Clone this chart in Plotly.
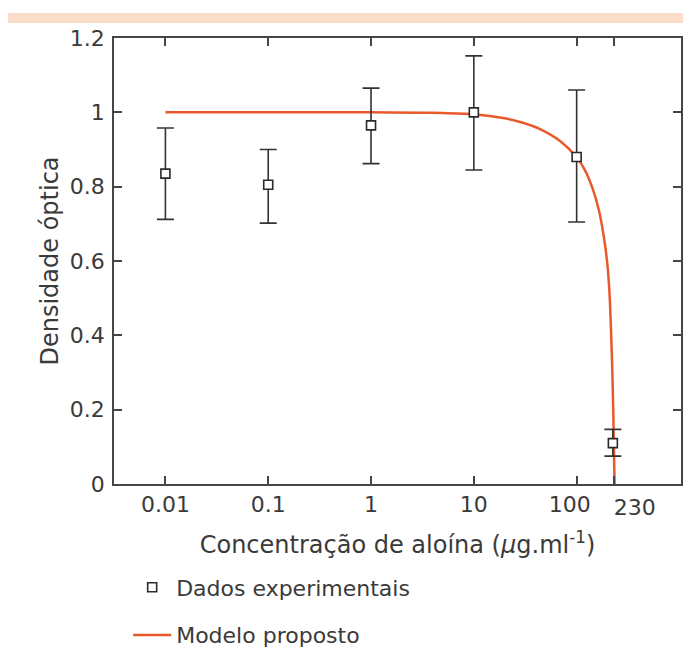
import plotly.graph_objects as go

conc = [0.01, 0.1, 1, 10, 100, 225]
density = [0.835, 0.805, 0.965, 1.0, 0.88, 0.11]
upper = [0.958, 0.900, 1.065, 1.152, 1.060, 0.147]
lower = [0.712, 0.702, 0.862, 0.845, 0.705, 0.075]

# Model curve points
model_x = [0.01, 0.1, 1, 3, 5, 10, 20, 30, 44, 69, 100, 120, 145, 165,
           185, 200, 210, 218, 222, 226, 229, 232, 234]
model_y = [1.0, 1.0, 1.0, 0.999, 0.998, 0.995, 0.984, 0.972, 0.955, 0.923, 0.879, 0.845, 0.79, 0.735,
           0.66, 0.585, 0.50, 0.38, 0.31, 0.22, 0.145, 0.05, 0.0]

tick_vals = [0.01, 0.1, 1, 10, 100, 230]
tick_text = ["0.01", "0.1", "1", "10", "100\u00a0\u00a0", ""]
end_tick_vals = [230]
end_tick_text = ["230"]
y_ticks = [0, 0.2, 0.4, 0.6, 0.8, 1, 1.2]
y_text = ["0", "0.2", "0.4", "0.6", "0.8", "1", "1.2"]

err_plus = [u - d for u, d in zip(upper, density)]
err_minus = [d - l for d, l in zip(density, lower)]

FONT = "DejaVu Sans"
TXT = "#3a3a3a"
AX = "#454545"
RED = "#E85A2C"
XRANGE = [-2.5, 3.015]

fig = go.Figure()
fig.add_trace(go.Scatter(
    x=model_x, y=model_y, mode="lines", name="Modelo proposto",
    line=dict(color=RED, width=2.5, shape="spline", smoothing=0.8),
    legendgroup="b", legendrank=2,
))
fig.add_trace(go.Scatter(
    x=conc, y=density, mode="markers", name="Dados experimentais", xaxis="x2",
    marker=dict(symbol="square", size=9, color="white", line=dict(color="#2a2a2a", width=1.6)),
    error_y=dict(type="data", symmetric=False, array=err_plus, arrayminus=err_minus,
                 color="#333333", thickness=1.6, width=8.5),
    legendgroup="a", legendrank=1,
))

fig.update_layout(
    width=691, height=670,
    margin=dict(l=106, r=18, t=30, b=46),
    paper_bgcolor="white", plot_bgcolor="white",
    font=dict(family=FONT, color=TXT, size=22),
    showlegend=True,
    legend=dict(
        x=0.025, y=0.1103, xanchor="left", yanchor="top",
        orientation="v", tracegroupgap=16,
        font=dict(size=22, color=TXT, family=FONT),
        bgcolor="rgba(0,0,0,0)", itemwidth=38,
    ),
    shapes=[dict(type="rect", xref="paper", yref="paper",
                 x0=-0.187, x1=1.05, y0=1.0253, y1=1.0421,
                 fillcolor="#FADCC9", line=dict(width=0), layer="above")],
    xaxis2=dict(
        type="log", range=XRANGE, overlaying="x", anchor="y", side="bottom",
        automargin=False, tickvals=end_tick_vals, ticktext=end_tick_text, tickangle=0,
        ticks="", ticklabelposition="outside right", ticklabelstandoff=8, showline=False,
        showgrid=False, zeroline=False,
        tickfont=dict(size=22, color=TXT, family=FONT),
    ),
)
fig.layout.xaxis.update(
    type="log", range=XRANGE, automargin=False,
    tickvals=tick_vals, ticktext=tick_text, tickangle=0,
    ticks="inside", ticklen=8, tickwidth=1.6, tickcolor=AX,
    showline=True, linecolor=AX, linewidth=1.8, mirror="ticks",
    showgrid=False, zeroline=False,
    tickfont=dict(size=22, color=TXT, family=FONT),
    title=dict(text="Concentração de aloína (<i>µ</i>g.ml<sup>-1</sup>)", standoff=20,
               font=dict(size=24, color=TXT, family=FONT)),
)
fig.update_yaxes(
    range=[0, 1.2], tickvals=y_ticks, ticktext=y_text, automargin=False,
    domain=[0.2492, 1.0],
    ticks="inside", ticklen=8, tickwidth=1.6, tickcolor=AX, ticklabelstandoff=3,
    showline=True, linecolor=AX, linewidth=1.8, mirror="ticks",
    showgrid=False, zeroline=False,
    tickfont=dict(size=22, color=TXT, family=FONT),
    title=dict(text="Densidade óptica", standoff=4,
               font=dict(size=24, color=TXT, family=FONT)),
)

fig.write_html("out.html")
